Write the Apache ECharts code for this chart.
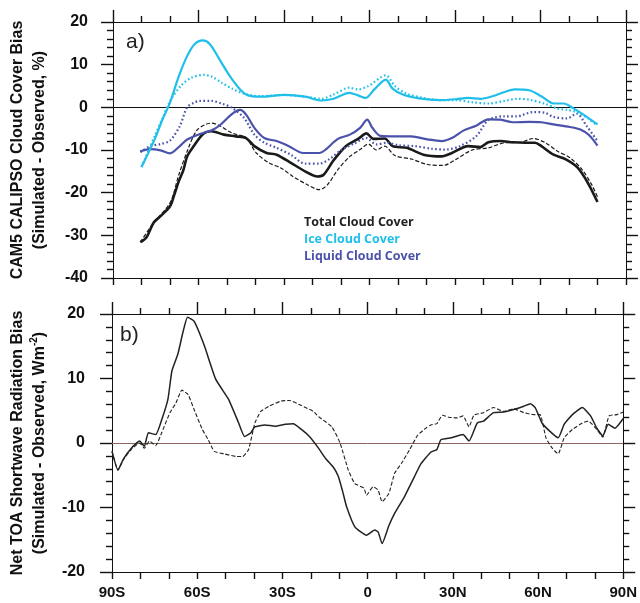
<!DOCTYPE html>
<html>
<head>
<meta charset="utf-8">
<script src="https://cdn.jsdelivr.net/npm/echarts/dist/echarts.min.js"></script>
<style>html,body{margin:0;padding:0;background:#fff}#c{width:640px;height:603px}</style>
</head>
<body>
<div id="c"></div>
<script>
// ---------- DATA (latitude, value) ----------
const xTickLabels = ['90S', '60S', '30S', '0', '30N', '60N', '90N'];
const legendNames = ['Total Cloud Cover', 'Ice Cloud Cover', 'Liquid Cloud Cover'];
const panelLabels = ['a)', 'b)'];
const yNameA = ['CAM5 CALIPSO Cloud Cover Bias', '(Simulated - Observed, %)'];
const yNameB = ['Net TOA Shortwave Radiation Bias', '(Simulated - Observed, Wm', '-2', ')'];

// Panel a) cloud cover bias (%)
const totalSolid = [[-80.4,-31.6],[-78.3,-30.5],[-75.7,-27],[-73.3,-25.5],[-70,-23.2],[-68.5,-20.5],[-66.9,-17.3],[-65.3,-14.7],[-64,-11.5],[-61.8,-9.2],[-58.3,-6.2],[-55.5,-5.6],[-51.1,-6.4],[-46.9,-6.8],[-43.3,-7.2],[-40.4,-9.1],[-36.1,-10.7],[-32.6,-11.1],[-27.6,-13.0],[-22.6,-15.0],[-18.3,-16.2],[-16.1,-15.8],[-12.6,-12.4],[-8.3,-9.1],[-4,-7.4],[-1.1,-6.1],[1.4,-7.4],[5.3,-7.3],[8.1,-9.1],[13.1,-9.5],[18.9,-11.1],[25.3,-11.5],[28.9,-10.7],[34.6,-9.1],[38.9,-9.3],[41.7,-8.2],[46,-7.9],[50.3,-8.2],[54.6,-8.3],[58.1,-8.3],[60.3,-9.1],[64.6,-11.1],[68.9,-12.2],[73.1,-14.2],[76.7,-17.8],[80,-22.2]];
const totalDashed = [[-80.4,-31.6],[-75.7,-27],[-70,-22.4],[-66.9,-15.8],[-63.7,-9.8],[-60.6,-5.4],[-57.5,-4.0],[-55.4,-3.7],[-52.6,-4.3],[-48.3,-6.0],[-43.3,-7.2],[-39.7,-10.7],[-35.4,-13.0],[-31.1,-14.2],[-26.9,-16.2],[-21.9,-18.1],[-17.6,-19.3],[-14.7,-18.1],[-11.1,-14.6],[-6.9,-11.5],[-3.3,-9.9],[-0.4,-8.6],[2.4,-10.0],[5.3,-9.1],[8.9,-11.3],[14.6,-12.1],[20.3,-13.4],[26,-13.6],[30.3,-12.2],[36,-10.0],[41.7,-9.5],[47.4,-8.3],[53.1,-8.2],[57.4,-7.3],[61.7,-8.3],[66,-10.3],[70.3,-11.8],[74.6,-14.6],[78.1,-18.3],[80,-21.0]];
const iceSolid = [[-80,-14.0],[-75.4,-7.5],[-72.6,-2.8],[-70,1.1],[-66.9,7.3],[-64,12],[-61.4,14.8],[-58.5,15.7],[-56,14.8],[-52.6,11.2],[-49,7.3],[-45.4,4.2],[-42.6,2.8],[-38.3,2.5],[-29.7,2.9],[-22.6,2.5],[-16.9,1.6],[-12.6,2.0],[-7.1,3.4],[-4,2.8],[-1.4,2.2],[1.7,4.2],[5.7,6.5],[8.1,4.4],[11.7,3.0],[17.4,2.1],[24.6,1.7],[30.3,1.9],[34.6,2.2],[38.9,2.0],[43.1,2.6],[47.4,3.6],[51,4.2],[56,4.0],[60.3,2.6],[64.6,0.9],[68.1,0.9],[71.7,-0.3],[76,-2.1],[80,-4.0]];
const iceDotted = [[-80,-14],[-75.4,-6.8],[-72.6,-2.5],[-69.7,1.8],[-66.1,5.1],[-62.6,6.9],[-58.2,7.6],[-55.4,7.2],[-51.9,5.8],[-48.3,4.4],[-44,3.2],[-38.3,2.6],[-29.7,2.9],[-22.6,2.5],[-16.9,2.0],[-12.6,3.0],[-7.1,4.6],[-4,4.2],[-0.4,5.0],[5.7,7.5],[8.9,5.0],[13.1,3.2],[18.9,2.2],[24.6,1.7],[30.3,1.7],[36,1.2],[41.7,0.9],[47.4,1.5],[51.7,2.0],[56,1.8],[61.7,0.8],[66,-0.3],[69.6,-0.6],[73.1,-1.2],[76.7,-2.6],[80,-4.3]];
const liquidSolid = [[-80.4,-10.3],[-76.9,-9.8],[-73.3,-10.1],[-70,-10.8],[-66.9,-9.3],[-64.1,-7.6],[-59.7,-6.3],[-55.4,-5.4],[-52.5,-4.2],[-48.3,-1.6],[-45.4,-0.6],[-43.3,-1.7],[-40.4,-4.8],[-36.9,-7.2],[-32.6,-7.9],[-28.3,-9.1],[-23.3,-10.7],[-17.6,-10.7],[-15.4,-9.9],[-11.1,-7.4],[-6.9,-6.4],[-3.3,-4.8],[-0.8,-2.9],[1,-4.8],[3.9,-6.7],[8.9,-6.8],[14.6,-6.8],[20.3,-7.5],[25.3,-7.9],[28.9,-7.2],[33.1,-5.4],[37.4,-4.3],[41.7,-2.8],[46,-2.9],[50.3,-3.5],[56,-3.4],[60.3,-3.5],[64.6,-4.0],[70.3,-4.6],[74,-5.2],[77,-6.5],[80,-9.0]];
const liquidDotted = [[-80.4,-10.5],[-76.9,-9.1],[-73.3,-8.6],[-70,-7.8],[-66.5,-4.3],[-64,0.0],[-61.8,1.0],[-59.7,1.5],[-55.4,1.5],[-51.9,0.9],[-48.3,-0.1],[-44,-2.5],[-40.4,-6.4],[-36.9,-8.3],[-32.6,-9.5],[-27.6,-11.1],[-22.6,-13.2],[-17.6,-13.2],[-14,-12.1],[-9.7,-9.9],[-5.4,-8.5],[-1.1,-7.2],[2.4,-8.7],[6,-8.3],[10.3,-8.9],[16,-9.1],[21.7,-9.7],[26.7,-9.9],[31.7,-9.1],[37.4,-6.8],[41.7,-3.0],[47.4,-2.1],[51.7,-2.1],[57.4,-1.1],[61.7,-1.3],[64.4,-2.2],[69.2,-2.6],[72.7,-1.5],[76.2,-4.4],[80,-7.9]];

// Panel b) net TOA shortwave bias (W m-2)
const swSolid = [[-90,-1.3],[-87.9,-4.2],[-86,-2.5],[-83.2,-0.8],[-80.3,0.3],[-78.6,-0.5],[-77.2,1.6],[-74.6,1.3],[-72.5,3.6],[-70.3,6.8],[-68.9,11.2],[-66.8,13.8],[-64.9,17.4],[-63.4,19.5],[-61.1,18.9],[-57.5,15.1],[-53.5,9.9],[-49,6.8],[-45.4,3.1],[-43.3,1.0],[-41.1,1.6],[-39.7,2.5],[-36.2,2.8],[-32.6,2.6],[-29,2.9],[-26.2,3.0],[-23.3,2.1],[-20.5,1.0],[-17.3,-0.8],[-14.8,-2.4],[-12,-3.8],[-10.3,-5.2],[-8.8,-7.5],[-7.4,-9.9],[-4.5,-13.0],[-0.4,-14.3],[2.5,-13.5],[3.7,-13.8],[5.1,-15.6],[7.5,-12.8],[9.5,-10.9],[13,-8.3],[16.5,-5.2],[18.8,-3.2],[22.3,-1.4],[24.4,-1.0],[25.8,0.5],[29.4,0.8],[33.6,1.3],[35.7,0.3],[38.6,3.1],[40.8,3.4],[44.3,4.7],[47.9,4.8],[51.4,5.2],[55,5.7],[57.3,6.1],[59,5.5],[61.4,3.1],[64.2,1.8],[67.1,0.8],[69.2,2.9],[72.1,4.4],[75.6,5.5],[78.5,4.2],[80.7,2.3],[82.8,1.1],[84.7,2.9],[87.1,2.3],[90,3.8]];
const swDashed = [[-90,-1.3],[-87.9,-4.2],[-86,-2.6],[-83.2,-1.0],[-80.3,0],[-78.6,-0.8],[-76.8,0.3],[-74.6,-0.4],[-72.5,1.6],[-69.6,4.7],[-67.5,6.2],[-65.4,8.2],[-63.2,7.5],[-61.1,5.2],[-58.2,2.1],[-56.1,0.5],[-54,-1.3],[-50.4,-1.7],[-46.1,-2.1],[-44,-2.1],[-41.9,-1.0],[-39.7,3.1],[-37.6,4.9],[-34.7,5.7],[-30.5,6.5],[-27.6,6.6],[-23.3,5.8],[-19.1,4.9],[-17.3,4.1],[-12.6,2.5],[-9.7,0.0],[-6.8,-4.2],[-4.5,-6.3],[-1.3,-7.0],[-0.4,-8.1],[1.9,-6.8],[3.7,-7.3],[5.1,-9.1],[7.5,-7.8],[9.5,-4.7],[12,-3.1],[14.7,-1.1],[17.6,1.2],[20.5,2.3],[22.3,2.8],[24.4,3.0],[26.3,4.3],[28.6,4.0],[31.5,3.9],[33.6,4.2],[35.7,2.5],[37.4,4.3],[40.8,4.7],[44.3,5.5],[47.9,4.9],[51.4,5.3],[55,4.7],[58.5,4.4],[60.7,4.4],[62.8,0.8],[65,-0.8],[67.1,-1.7],[69.2,0.8],[72.1,2.1],[75.6,3.1],[77.7,3.4],[80.7,2.1],[82.8,0.9],[85,4.2],[87.8,4.4],[90,4.8]];

// ---------- STYLE ----------
const BLACK = '#1a1a1a', CYAN = '#1fbfea', BLUE = '#4a52aa';
const AX = '#111';
const TW = 1.4;
const labelFont = 'Liberation Sans, Arial, Helvetica, sans-serif';

function xAxisDef(gridIndex, position, showLabels, majorLen, minorLen) {
  return {
    type: 'value', gridIndex, position, min: -90, max: 90, interval: 30,
    axisLine: { show: true, onZero: false, lineStyle: { color: '#111', width: 1 } },
    axisTick: { show: true, length: majorLen, lineStyle: { color: AX, width: TW } },
    minorTick: { show: true, splitNumber: 3, length: minorLen, lineStyle: { color: AX, width: TW } },
    splitLine: { show: false },
    axisLabel: {
      show: showLabels, margin: 13, color: '#111', fontFamily: labelFont, fontWeight: 'bold', fontSize: 15,
      formatter: v => xTickLabels[Math.round((v + 90) / 30)]
    }
  };
}
// an extra, label-free x axis whose line sits on y = 0 (zero reference line)
function zeroAxisDef(gridIndex, yIndex, color) {
  return {
    type: 'value', gridIndex, position: 'bottom', min: -90, max: 90, interval: 30,
    axisLine: { show: true, onZero: true, onZeroAxisIndex: yIndex, lineStyle: { color, width: 1 } },
    axisTick: { show: false }, minorTick: { show: false }, axisLabel: { show: false }, splitLine: { show: false }
  };
}
function yAxisDef(gridIndex, position, min, max, showLabels, margin) {
  return {
    type: 'value', gridIndex, position, min, max, interval: 10,
    axisLine: { show: true, onZero: false, lineStyle: { color: '#111', width: 1 } },
    axisTick: { show: true, length: 12, lineStyle: { color: AX, width: TW } },
    minorTick: { show: true, splitNumber: 5, length: 6, lineStyle: { color: AX, width: TW } },
    splitLine: { show: false },
    axisLabel: { show: showLabels, margin: margin || 8, color: '#111', fontFamily: labelFont, fontWeight: 'bold', fontSize: 16 }
  };
}
function line(data, xi, yi, color, width, type, smooth) {
  return {
    type: 'line', data, xAxisIndex: xi, yAxisIndex: yi, showSymbol: false, symbol: 'none',
    smooth: smooth, lineStyle: { color, width, type }, silent: true
  };
}
const nameRich = {
  t: { font: 'bold 16px ' + labelFont, lineHeight: 22, fill: '#111' },
  s: { font: 'bold 10px ' + labelFont, lineHeight: 12, verticalAlign: 'top', fill: '#111' }
};
function nameText(x, y, text) {
  return { type: 'text', x, y, rotation: Math.PI / 2, silent: true,
    style: { text, rich: nameRich, align: 'center', verticalAlign: 'middle', fill: '#111', font: 'bold 16px ' + labelFont } };
}
function plainText(x, y, text, font, fill) {
  return { type: 'text', x, y, silent: true, style: { text, font, fill, align: 'left', verticalAlign: 'top' } };
}

const chart = echarts.init(document.getElementById('c'));
chart.setOption({
  animation: false,
  grid: [
    { left: 113, right: 14, top: 22, height: 256 },
    { left: 112, right: 13, top: 314, height: 258 }
  ],
  graphic: [
    plainText(126, 32, panelLabels[0], '21px ' + labelFont, '#222'),
    plainText(120, 325, panelLabels[1], '21px ' + labelFont, '#222'),
    plainText(304, 216, legendNames[0], 'bold 12.5px "Open Sans"', '#222'),
    plainText(304, 233, legendNames[1], 'bold 12.5px "Open Sans"', CYAN),
    plainText(304, 250, legendNames[2], 'bold 12.5px "Open Sans"', BLUE),
    nameText(29, 150, '{t|' + yNameA[0] + '}\n{t|' + yNameA[1] + '}'),
    nameText(29, 443, '{t|' + yNameB[0] + '}\n{t|' + yNameB[1] + '}{s|' + yNameB[2] + '}{t|' + yNameB[3] + '}')
  ],
  xAxis: [
    xAxisDef(0, 'bottom', false, 7, 7),
    xAxisDef(0, 'top', false, 12, 6),
    xAxisDef(1, 'bottom', true, 7, 7),
    xAxisDef(1, 'top', false, 12, 6),
    zeroAxisDef(0, 0, '#111'),
    zeroAxisDef(1, 2, '#8a6558')
  ],
  yAxis: [
    yAxisDef(0, 'left', -40, 20, true, 25),
    yAxisDef(0, 'right', -40, 20, false),
    yAxisDef(1, 'left', -20, 20, true, 27),
    yAxisDef(1, 'right', -20, 20, false)
  ],
  series: [
    line(totalDashed, 0, 0, BLACK, 1.2, [4, 2], 0.3),
    line(totalSolid, 0, 0, BLACK, 2.6, 'solid', 0.3),
    line(liquidDotted, 0, 0, BLUE, 2.2, [1.6, 2.4], 0.3),
    line(liquidSolid, 0, 0, BLUE, 2.2, 'solid', 0.3),
    line(iceDotted, 0, 0, CYAN, 2.2, [1.6, 2.4], 0.3),
    line(iceSolid, 0, 0, CYAN, 2.2, 'solid', 0.3),
    line(swDashed, 2, 2, '#222', 1.1, [4, 2], 0.15),
    line(swSolid, 2, 2, '#222', 1.5, 'solid', 0.15)
  ]
});
</script>
</body>
</html>
